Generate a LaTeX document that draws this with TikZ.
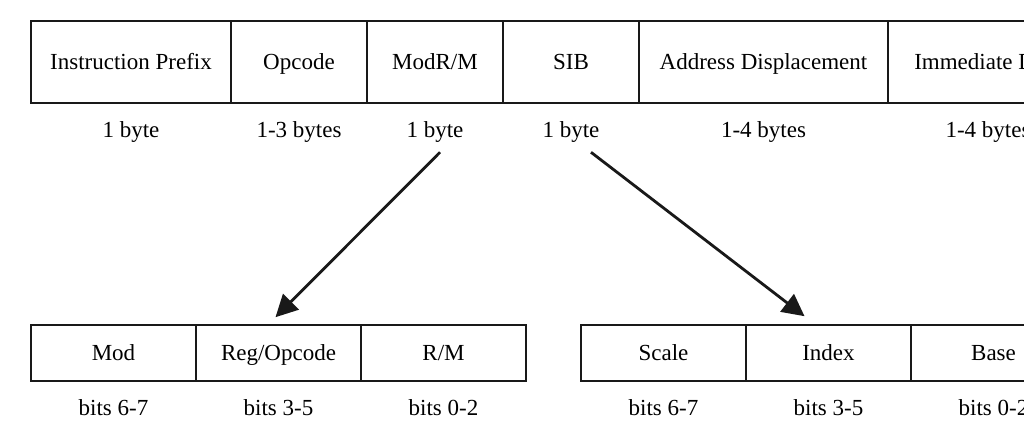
\documentclass[tikz,border=0pt]{standalone}
\usepackage{fontspec}
\setmainfont{Liberation Serif}
\usetikzlibrary{arrows.meta}
\begin{document}
\begin{tikzpicture}[x=1pt,y=-1pt,
  field/.style={draw=black!90, line width=1.6pt, inner sep=0pt, minimum height=#1,
    text height=15.8pt, text depth=0pt, font=\fontsize{23}{26}\selectfont},
  field/.default=82pt,
  size/.style={inner sep=0pt, text height=16.2pt, text depth=5.9pt,
    font=\fontsize{23}{26}\selectfont},
  arr/.style={line width=2.8pt, draw=black!90,
    -{Triangle[length=22pt,width=22pt]}}]
\useasboundingbox (0,0) rectangle (1024,429);
\clip (0,0) rectangle (1024,429);
% top row
\node[field, minimum width=200pt] (pre) at (131,62) {Instruction Prefix};
\node[field, minimum width=136pt] (opc) at (299,62) {Opcode};
\node[field, minimum width=136pt] (mrm) at (435,62) {ModR/M};
\node[field, minimum width=136pt] (sib) at (571,62) {SIB};
\node[field, minimum width=249pt] (adr) at (763.5,62) {Address Displacement};
\node[field, minimum width=200pt] (imm) at (988,62) {Immediate Data};
\node[size] (pres) at (131,132) {1 byte};
\node[size] (opcs) at (299,132) {1-3 bytes};
\node[size] (mrms) at (435,132) {1 byte};
\node[size] (sibs) at (571,132) {1 byte};
\node[size] (adrs) at (763.5,132) {1-4 bytes};
\node[size] (imms) at (988,132) {1-4 bytes};
% ModR/M row
\node[field=56pt, minimum width=165pt] (mod) at (113.5,353) {Mod};
\node[field=56pt, minimum width=165pt] (reg) at (278.5,353) {Reg/Opcode};
\node[field=56pt, minimum width=165pt] (rm) at (443.5,353) {R/M};
\node[size] (mods) at (113.5,410) {bits 6-7};
\node[size] (regs) at (278.5,410) {bits 3-5};
\node[size] (rms) at (443.5,410) {bits 0-2};
% SIB row
\node[field=56pt, minimum width=165pt] (sca) at (663.5,353) {Scale};
\node[field=56pt, minimum width=165pt] (idx) at (828.5,353) {Index};
\node[field=56pt, minimum width=165pt] (bas) at (993.5,353) {Base};
\node[size] (scas) at (663.5,410) {bits 6-7};
\node[size] (idxs) at (828.5,410) {bits 3-5};
\node[size] (bass) at (993.5,410) {bits 0-2};
% arrows
\draw[arr] ([xshift=5pt,yshift=-9pt]mrms.south) -- ([xshift=-3pt,yshift=7pt]reg.north);
\draw[arr] ([xshift=20pt,yshift=-9pt]sibs.south) -- ([xshift=-24pt,yshift=8pt]idx.north);
\end{tikzpicture}
\end{document}
